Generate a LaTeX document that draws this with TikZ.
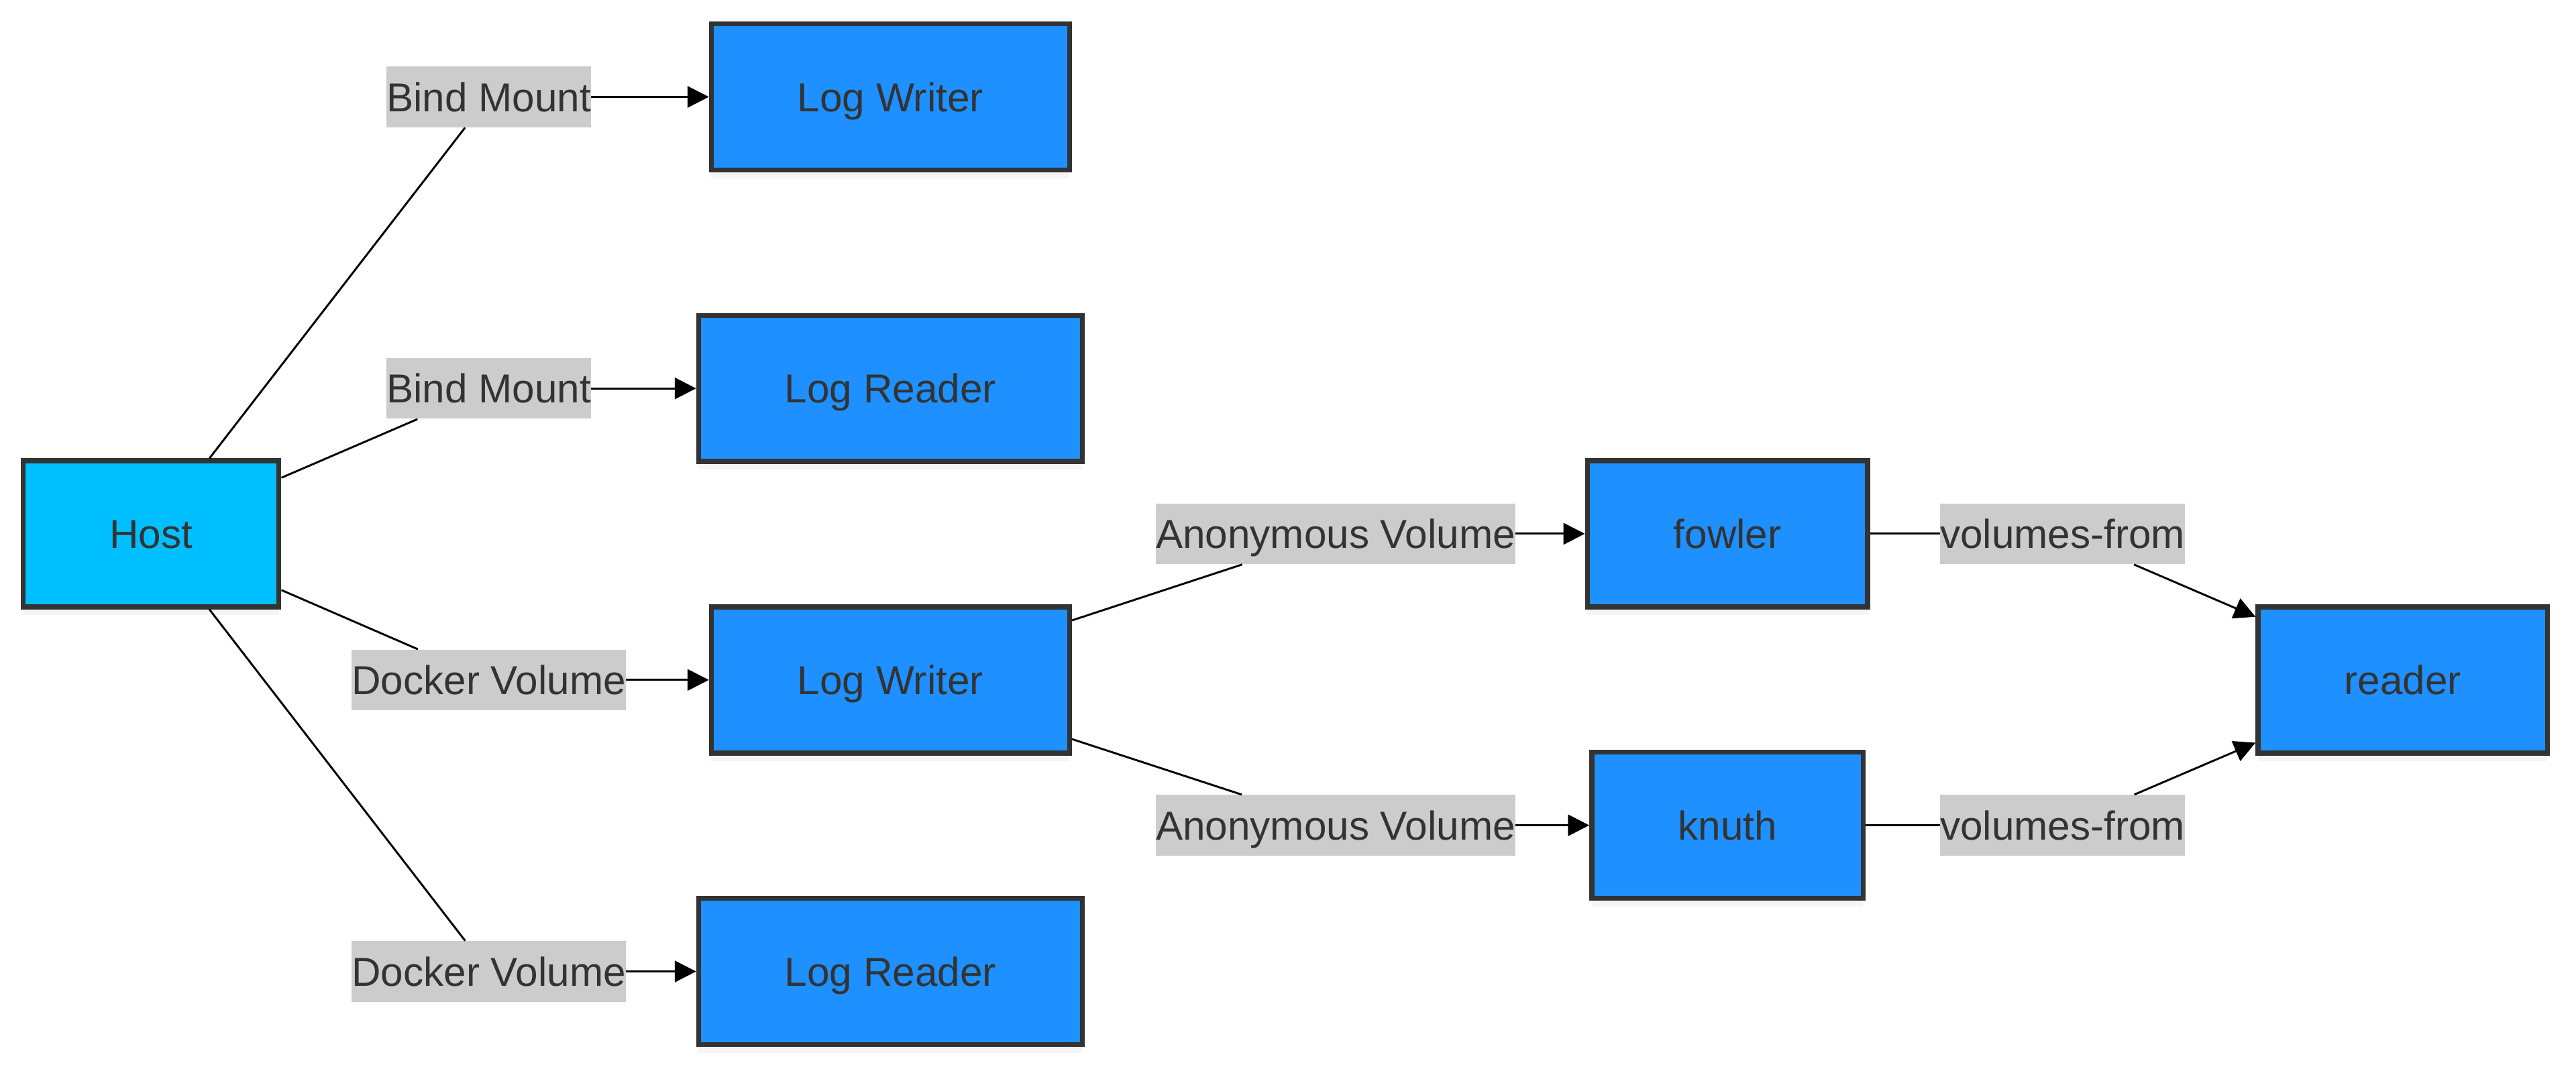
\documentclass[tikz,border=0pt]{standalone}
\usepackage{fontspec}
\setmainfont{Liberation Sans}
\usepackage{xcolor}
\definecolor{hostblue}{HTML}{00BFFF}
\definecolor{boxblue}{HTML}{1E90FF}
\definecolor{boxline}{HTML}{333333}
\definecolor{labelgray}{HTML}{CCCCCC}
\usepackage{tikz}
\usetikzlibrary{arrows.meta}
\usetikzlibrary{shadows}
\newcommand{\rowgap}{177.5pt}
\newcommand{\labelfont}{\fontsize{24.6pt}{29pt}\selectfont}
\tikzset{
    common/.style={draw=boxline, line width=3pt, rectangle, minimum height=89pt, inner xsep=52.5pt,
        text=boxline, font=\labelfont, text height=17.6pt, text depth=0pt,
        drop shadow={shadow xshift=0pt, shadow yshift=-5pt, opacity=.08}},
    container/.style={common, fill=boxblue},
    host/.style={common, fill=hostblue},
    mount/.style={fill=labelgray, text=boxline, inner sep=0pt, minimum height=37pt, font=\labelfont,
        text height=17.6pt, text depth=0pt},
    link/.style={line width=1.2pt},
    flow/.style={link, -{Triangle[length=13pt, width=13pt]}}
}

\begin{document}
\begin{tikzpicture}
    \useasboundingbox (0,0) rectangle (1568pt,-652pt);

    \path
        (92pt,-325pt) node[host] (host) {Host};

    \path
        (297.5pt,-59pt) node[mount] (bind-a) {Bind Mount}
        to ++(270:\rowgap) node[mount] (bind-b) {Bind Mount}
        to ++(270:\rowgap) node[mount] (docker-a) {Docker Volume}
        to ++(270:\rowgap) node[mount] (docker-b) {Docker Volume};

    \path
        (542pt,-59pt) node[container] (writer-a) {Log Writer}
        to ++(270:\rowgap) node[container] (reader-a) {Log Reader}
        to ++(270:\rowgap) node[container] (writer-b) {Log Writer}
        to ++(270:\rowgap) node[container] (reader-b) {Log Reader};

    \path
        (813pt,-325pt) node[mount] (anon-a) {Anonymous Volume}
        to ++(0:238.5pt) node[container] (fowler) {fowler}
        to ++(0:204pt) node[mount] (from-a) {volumes-from};

    \path
        (813pt,-502.5pt) node[mount] (anon-b) {Anonymous Volume}
        to ++(0:238.5pt) node[container] (knuth) {knuth}
        to ++(0:204pt) node[mount] (from-b) {volumes-from};

    \path
        (1462.5pt,-414pt) node[container] (reader) {reader};

    \draw[link] (host) -- (bind-a);
    \draw[flow] (bind-a) -- (writer-a);
    \draw[link] (host) -- (bind-b);
    \draw[flow] (bind-b) -- (reader-a);
    \draw[link] (host) -- (docker-a);
    \draw[flow] (docker-a) -- (writer-b);
    \draw[link] (host) -- (docker-b);
    \draw[flow] (docker-b) -- (reader-b);

    \draw[link] (writer-b) -- (anon-a);
    \draw[flow] (anon-a) -- (fowler);
    \draw[link] (writer-b) -- (anon-b);
    \draw[flow] (anon-b) -- (knuth);

    \draw[link] (fowler) -- (from-a);
    \draw[flow] (from-a) -- (reader);
    \draw[link] (knuth) -- (from-b);
    \draw[flow] (from-b) -- (reader);

\end{tikzpicture}
\end{document}
